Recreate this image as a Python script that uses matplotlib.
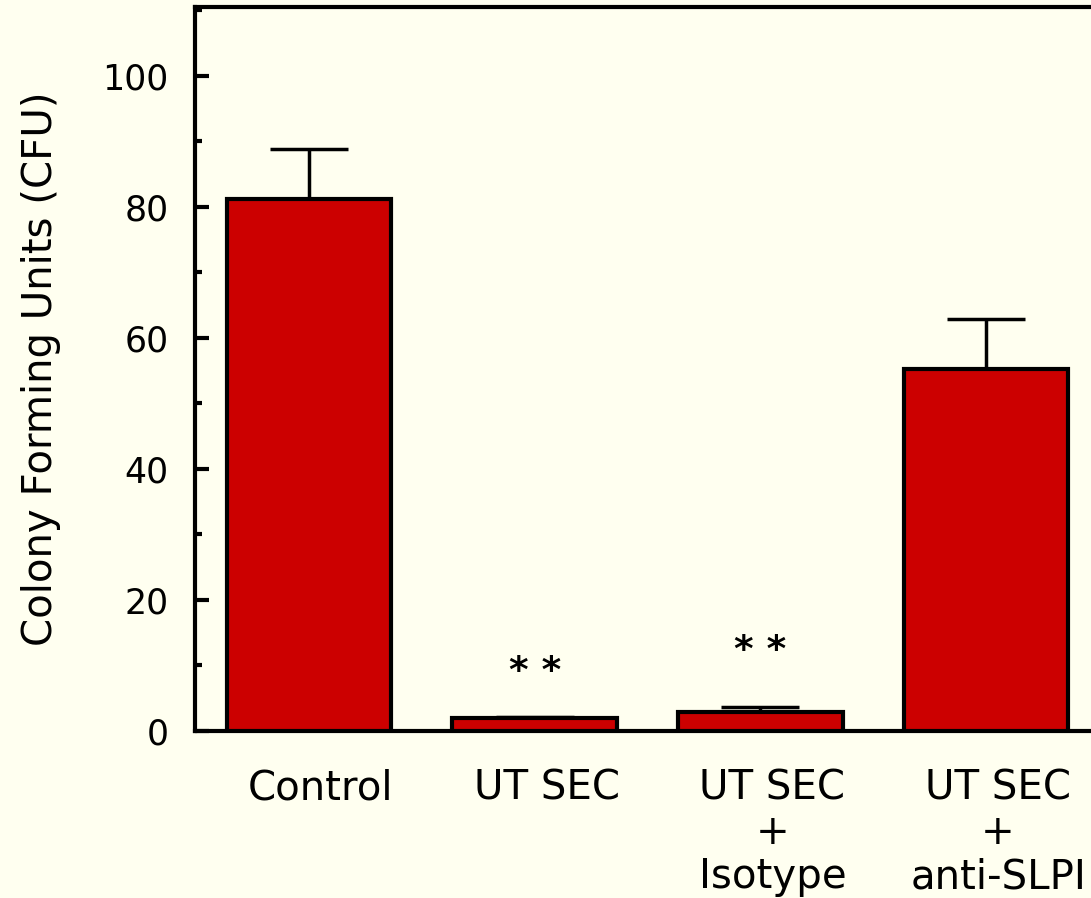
import numpy as np
import matplotlib.pyplot as plt
from matplotlib.ticker import MultipleLocator
from matplotlib.transforms import ScaledTranslation

groups = ['Control', 'UT SEC', 'UT SEC\n+\nIsotype', 'UT SEC\n+\nanti-SLPI']
cfu = [81.2, 2.0, 2.9, 55.3]
cfu_err = [7.6, 0.1, 0.7, 7.6]
stars = ['', '* *', '* *', '']
star_y = [0, 6.2, 9.4, 0]

bg = '#FFFFF0'
red = '#CC0000'

plt.rcParams['font.family'] = ['DejaVu Sans']

fig = plt.figure(figsize=(10.91, 8.98), dpi=100, facecolor=bg)
ax = fig.add_axes([0.1787, 0.186, 0.8286, 0.806], facecolor=bg)

x = np.arange(len(groups))
ax.bar(x, cfu, width=0.73, color=red, edgecolor='black', linewidth=3, zorder=3)
ax.errorbar(x, cfu, yerr=[np.zeros(len(cfu)), cfu_err], fmt='none', ecolor='black',
            elinewidth=2.5, capsize=28, capthick=2.5, zorder=2)

for xi, s, sy in zip(x, stars, star_y):
    if s:
        ax.text(xi, sy, s, ha='center', va='bottom', fontsize=27, fontweight='bold')

ax.set_xlim(-0.505, 3.5)
ax.set_ylim(0, 110.5)
ax.yaxis.set_major_locator(MultipleLocator(20))
ax.yaxis.set_minor_locator(MultipleLocator(10))
ax.tick_params(axis='y', which='major', direction='in', length=10, width=3, labelsize=25, pad=19)
ax.tick_params(axis='y', which='minor', direction='in', length=5, width=3)
ax.tick_params(axis='x', length=0, labelsize=29, pad=27)
ax.set_xticks(x)
ax.set_xticklabels(groups, linespacing=1.14, va='top')
shift = ScaledTranslation(12 / 100, 0, fig.dpi_scale_trans)
for lab in ax.get_xticklabels():
    lab.set_transform(lab.get_transform() + shift)
for sp in ax.spines.values():
    sp.set_linewidth(3)

ax.set_ylabel('Colony Forming Units (CFU)', fontsize=29, labelpad=30)

fig.savefig('out.png', dpi=100, facecolor=bg)
